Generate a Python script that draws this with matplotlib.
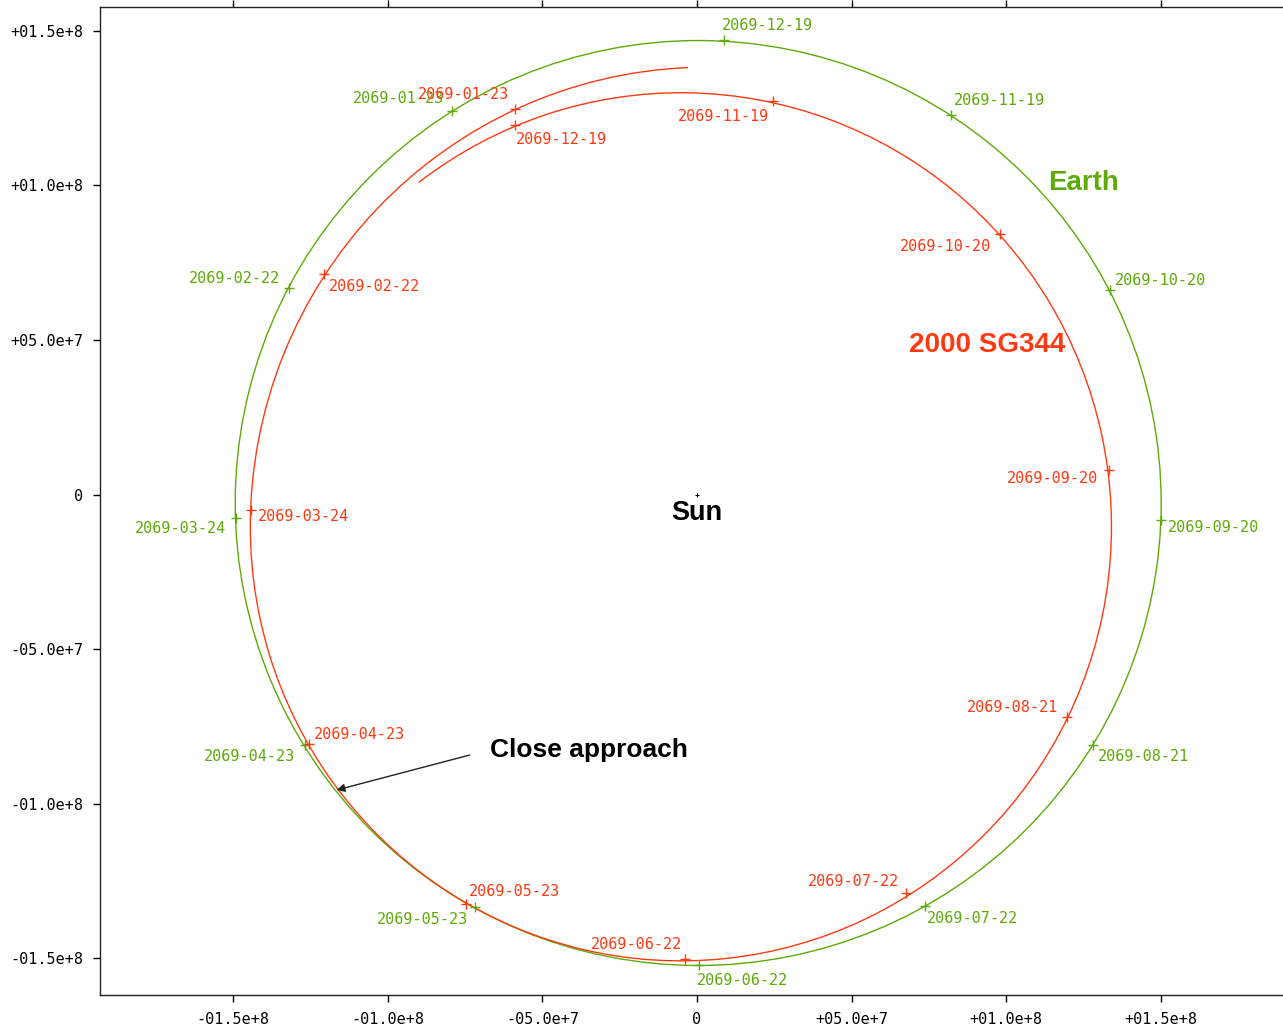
import numpy as np
import matplotlib.pyplot as plt
from matplotlib.patches import Ellipse, Arc

# all positions in millions of km, sun at the origin
dates = ["2069-01-23", "2069-02-22", "2069-03-24", "2069-04-23", "2069-05-23", "2069-06-22",
         "2069-07-22", "2069-08-21", "2069-09-20", "2069-10-20", "2069-11-19", "2069-12-19"]

earth_x = [-79.4, -132.1, -149.2, -126.9, -71.9, 0.6, 73.7, 128.0, 150.0, 133.5, 82.1, 8.6]
earth_y = [124.1, 66.8, -7.6, -81.0, -133.5, -152.2, -133.1, -81.0, -8.2, 66.2, 122.8, 147.0]

sg_x = [-58.98, -120.77, -144.39, -125.62, -74.83, -3.98, 67.52, 119.61, 133.19, 97.93, 24.49, -58.98]
sg_y = [124.72, 71.34, -5.01, -80.72, -132.48, -150.27, -128.92, -71.98, 7.93, 84.28, 127.31, 119.54]

# orbit ellipses: centre x, centre y, semi axis x, semi axis y
earth_orbit = [0.39, -2.75, 149.75, 149.6]
sg_orbit = [-5.21, -10.45, 139.27, 140.41]
sg_arc = [180.0, 127.3]  # degrees, counter clockwise
# first pass of the asteroid, wider, meeting the orbit at its left side
sg_lead = [3.04, -10.45, 147.53, 148.66]
sg_lead_arc = [92.3, 180.0]

ticks = [-1.5e8, -1.0e8, -5.0e7, 0, 5.0e7, 1.0e8, 1.5e8]
tick_text = ["-01.5e+8", "-01.0e+8", "-05.0e+7", "0", "+05.0e+7", "+01.0e+8", "+01.5e+8"]

M = 1e6
green = '#5daa08'
red = '#ff3a12'
mono = 'DejaVu Sans Mono'

# label offsets from each marker, in pixels
earth_off = [(-53, 12), (-54, 10), (-55, -10), (-55, -12), (-52, -12), (44, -15),
             (48, -13), (51, -12), (53, -8), (51, 9), (49, 14), (44, 15)]
sg_off = [(-51, 14), (51, -13), (53, -7), (51, 10), (49, 13), (-48, 15),
          (-52, 12), (-54, 10), (-56, -9), (-54, -13), (-49, -16), (47, -15)]

fig = plt.figure(figsize=(12.83, 10.26), dpi=100)
ax = fig.add_axes([100/1283, 31/1026, 1194/1283, 988/1026])
ax.set_xlim(-1.931e8, 1.931e8)
ax.set_ylim(-1.619e8, 1.577e8)

# earth
cx, cy, rx, ry = earth_orbit
ax.add_patch(Ellipse((cx*M, cy*M), 2*rx*M, 2*ry*M, fill=False, ec=green, lw=1.0))
ex = np.array(earth_x)*M
ey = np.array(earth_y)*M
ax.plot(ex, ey, '+', ms=7, mew=1.0, color=green)
for i, d in enumerate(dates):
    ax.annotate(d, (ex[i], ey[i]), xytext=earth_off[i], textcoords='offset pixels',
                ha='center', va='center', color=green, fontsize=10.9, family=mono)

# 2000 SG344
cx, cy, rx, ry = sg_lead
ax.add_patch(Arc((cx*M, cy*M), 2*rx*M, 2*ry*M, theta1=sg_lead_arc[0],
                 theta2=sg_lead_arc[1], ec=red, lw=1.0))
cx, cy, rx, ry = sg_orbit
ax.add_patch(Arc((cx*M, cy*M), 2*rx*M, 2*ry*M, theta1=sg_arc[0], theta2=sg_arc[1],
                 ec=red, lw=1.0))
sx = np.array(sg_x)*M
sy = np.array(sg_y)*M
ax.plot(sx, sy, '+', ms=7, mew=1.0, color=red)
for i, d in enumerate(dates):
    ax.annotate(d, (sx[i], sy[i]), xytext=sg_off[i], textcoords='offset pixels',
                ha='center', va='center', color=red, fontsize=10.9, family=mono)

# sun
ax.plot(0, 0, '+', ms=3, mew=0.8, color='black')
ax.annotate('Sun', (0, 0), xytext=(0, -18), textcoords='offset pixels', ha='center',
            va='center', fontsize=19.5, fontweight='bold', family='Liberation Sans')

ax.text(124.9*M, 100.8*M, 'Earth', color=green, fontsize=20, fontweight='bold',
        family='Liberation Sans', ha='center', va='center')
ax.text(93.7*M, 48.4*M, '2000 SG344', color=red, fontsize=20, fontweight='bold',
        family='Liberation Sans', ha='center', va='center')

ax.annotate('', xy=(-116.56*M, -95.60*M), xytext=(-73.54*M, -84.28*M),
            arrowprops=dict(arrowstyle='-|>', color='#222222', lw=1.0,
                            mutation_scale=12, shrinkA=0, shrinkB=0))
ax.text(-67.07*M, -82.66*M, 'Close approach', fontsize=19, fontweight='bold',
        family='Liberation Sans', ha='left', va='center')

ax.set_xticks(ticks)
ax.set_xticklabels(tick_text, family=mono, fontsize=10.9)
ax.set_yticks(ticks)
ax.set_yticklabels(tick_text, family=mono, fontsize=10.9)
ax.tick_params(direction='out', length=5, width=1.0, pad=7, top=True, labeltop=False)
for s in ax.spines.values():
    s.set_linewidth(1.0)
    s.set_color('#222222')

fig.savefig('out.png', dpi=100)
